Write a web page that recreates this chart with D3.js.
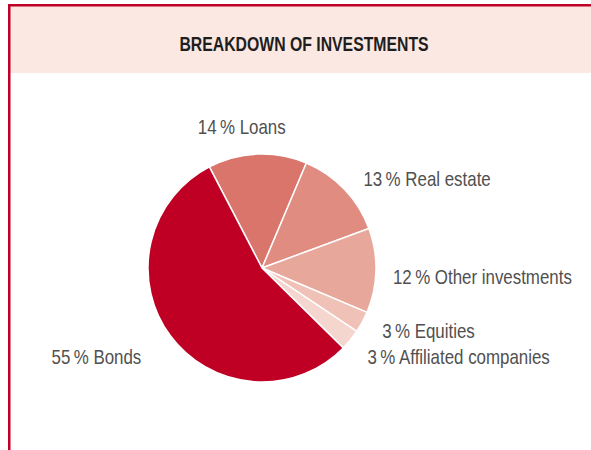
<html lang="en">
  <head>
    <meta charset="UTF-8" />
    <title>Breakdown of investments</title>
    <script src="https://d3js.org/d3.v7.min.js"></script>
  </head>
  <style>
    body {
      margin: 0px;
      overflow: hidden;
      background: #ffffff;
    }
    text {
      font-family: "Liberation Sans", Arial, sans-serif;
    }
  </style>
  <body>
    <svg width="591" height="450"></svg>
  </body>
  <footer>
    <script>
      var categories = ["Loans", "Real estate", "Other investments", "Equities", "Affiliated companies", "Bonds"];
      var shares = [14, 13, 12, 3, 3, 55];
      var colors = ["#d9756b", "#e08c80", "#e8a79b", "#efc1b7", "#f4d6ce", "#bf0024"];
      // small nudges for each label, from the outside anchor point
      var labelNudge = [[-15, -2], [6, 9], [-1, 13], [4, 7.5], [3, 12.6], [-14.6, 17.5]];

      var svg = d3.select("svg");
      var width = 591;
      var cx = 262, cy = 268, radius = 114;
      var squeeze = 0.845; // fake a condensed face

      // frame and header band
      svg.append("rect")
        .attr("x", 10).attr("y", 6)
        .attr("width", width - 10).attr("height", 67)
        .attr("fill", "#fbe8e2");
      svg.append("rect")
        .attr("x", 8).attr("y", 4)
        .attr("width", width - 8).attr("height", 2.5)
        .attr("fill", "#c00024");
      svg.append("rect")
        .attr("x", 8).attr("y", 4)
        .attr("width", 2.5).attr("height", 450)
        .attr("fill", "#c00024");

      svg.append("text")
        .attr("transform", "translate(304, 51) scale(0.79, 1)")
        .attr("text-anchor", "middle")
        .attr("font-size", 20)
        .attr("font-weight", "bold")
        .attr("fill", "#1e1e1e")
        .text("BREAKDOWN OF INVESTMENTS");

      var data = categories.map(function (c, i) {
        return { name: c, value: shares[i], color: colors[i], nudge: labelNudge[i] };
      });

      var start = -27.5 * Math.PI / 180;
      var pie = d3.pie()
        .sort(null)
        .value(function (d) { return d.value; })
        .startAngle(start)
        .endAngle(start + 2 * Math.PI);

      var arc = d3.arc().innerRadius(0).outerRadius(radius);
      var labelArc = d3.arc().innerRadius(132).outerRadius(132);

      var g = svg.append("g").attr("transform", `translate(${cx}, ${cy})`);

      var arcs = pie(data);

      g.selectAll("path")
        .data(arcs)
        .enter()
        .append("path")
        .attr("d", arc)
        .attr("fill", function (d) { return d.data.color; })
        .attr("stroke", "#ffffff")
        .attr("stroke-width", 1.5)
        .attr("stroke-linejoin", "round");

      g.selectAll("text")
        .data(arcs)
        .enter()
        .append("text")
        .attr("transform", function (d) {
          var p = labelArc.centroid(d);
          var x = p[0] + d.data.nudge[0];
          var y = p[1] + d.data.nudge[1];
          return `translate(${x}, ${y}) scale(${squeeze}, 1)`;
        })
        .attr("text-anchor", function (d) {
          var x = labelArc.centroid(d)[0];
          if (x > 20) return "start";
          if (x < -20) return "end";
          return "middle";
        })
        .attr("font-size", 20)
        .attr("fill", "#505050")
        .text(function (d) { return d.data.value + "\u2009% " + d.data.name; });
    </script>
  </footer>
</html>
